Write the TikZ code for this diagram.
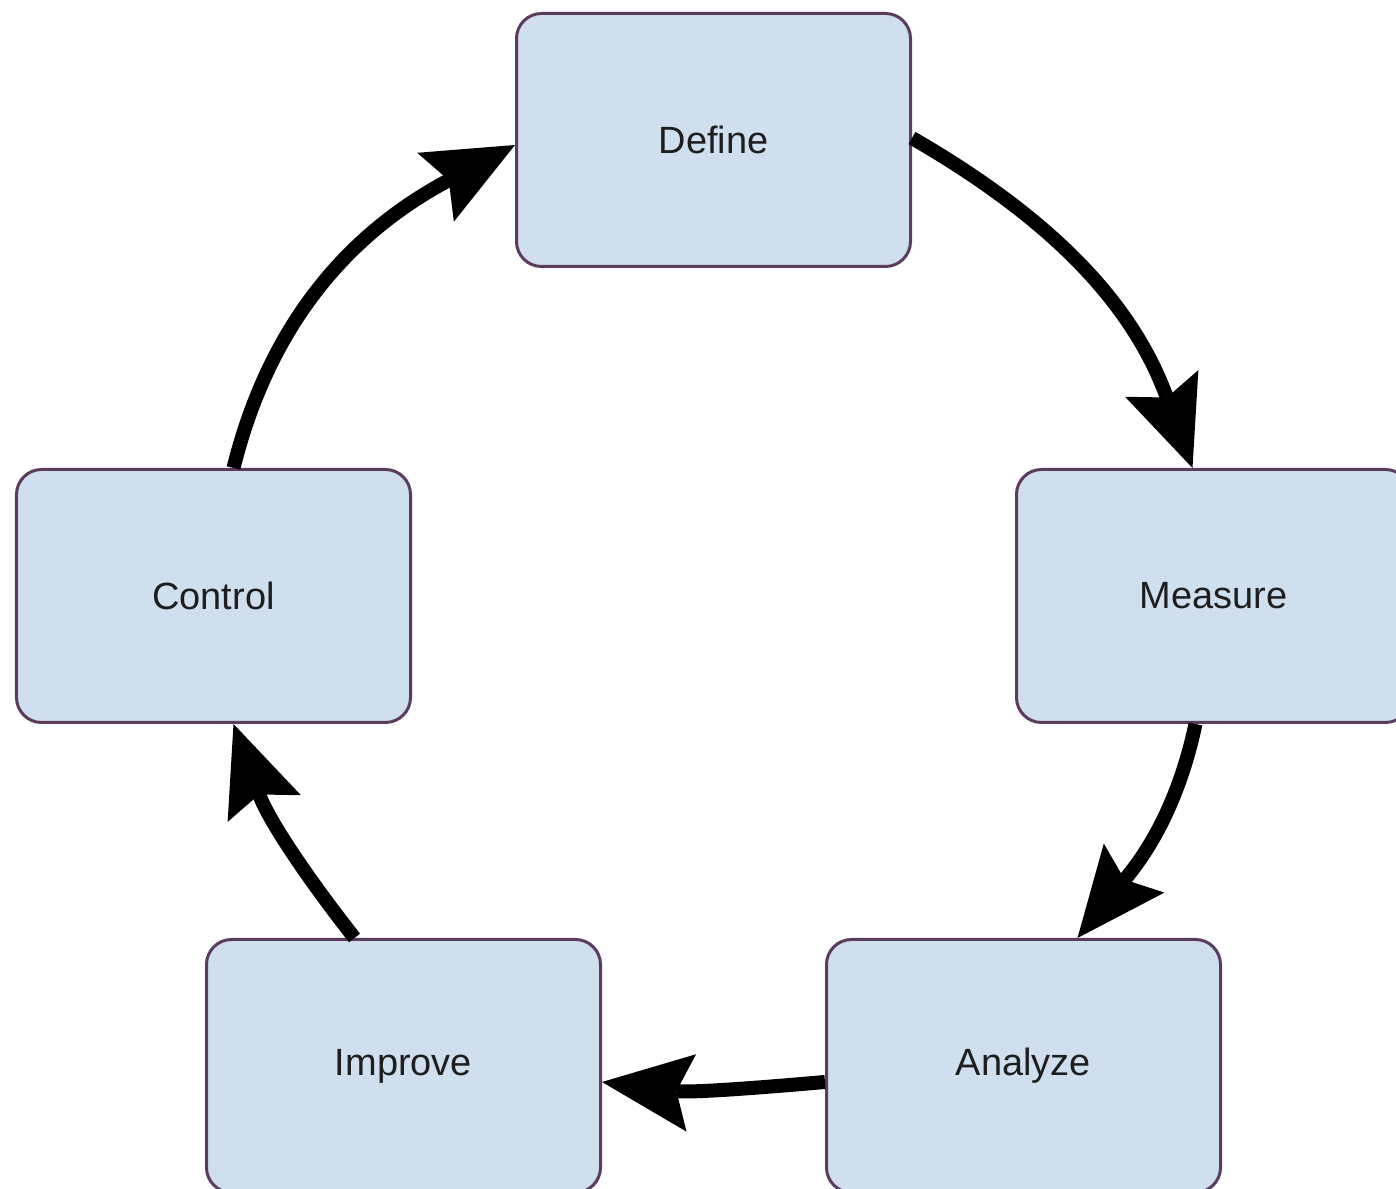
\documentclass[tikz,border=0pt]{standalone}
\usepackage{fontspec}
\setmainfont{Liberation Sans}
\usetikzlibrary{arrows.meta}
\definecolor{boxfill}{HTML}{CFDFEE}
\definecolor{boxedge}{HTML}{5B3C5E}
\definecolor{labeltext}{HTML}{1E1E1E}
\begin{document}
\begin{tikzpicture}[
  phase/.style={draw=boxedge, fill=boxfill, line width=0.03cm, rounded corners=0.25cm,
    minimum width=3.94cm, minimum height=2.53cm, inner sep=0pt,
    font=\fontsize{10.8}{13}\selectfont, text=labeltext},
  flow/.style={line width=0.14cm, black,
    -{Stealth[length=0.9cm, width=0.78cm, inset=0.15cm, line width=0pt]}}
]
\useasboundingbox (0,0) rectangle (13.96,11.89);
\clip (0,0) rectangle (13.96,11.89);
\fill[white] (0,0) rectangle (13.96,11.89);

% the five phases of the cycle
\node[phase] (def) at (7.135,10.49) {Define};
\node[phase] (mea) at (12.135,5.93) {Measure};
\node[phase] (ana) at (10.235,1.23) {Analyze};
\node[phase] (imp) at (4.035,1.23) {Improve};
\node[phase] (ctl) at (2.135,5.93) {Control};

% curved arrows running clockwise round the ring
\draw[flow] ([yshift=0.02cm]def.east) to[out=-30, in=110] ([xshift=-0.21cm]mea.north);
\draw[flow] ([xshift=-0.18cm]mea.south) to[out=-102, in=51] ([xshift=0.54cm]ana.north);
\draw[flow] ([yshift=-0.16cm]ana.west) to[out=185, in=-7] ([yshift=-0.16cm]imp.east);
\draw[flow] ([xshift=-0.49cm]imp.north) to[out=128, in=-70] ([xshift=0.2cm]ctl.south);
\draw[flow] ([xshift=0.2cm]ctl.north) to[out=76, in=208] ([yshift=-0.05cm]def.west);
\end{tikzpicture}
\end{document}
